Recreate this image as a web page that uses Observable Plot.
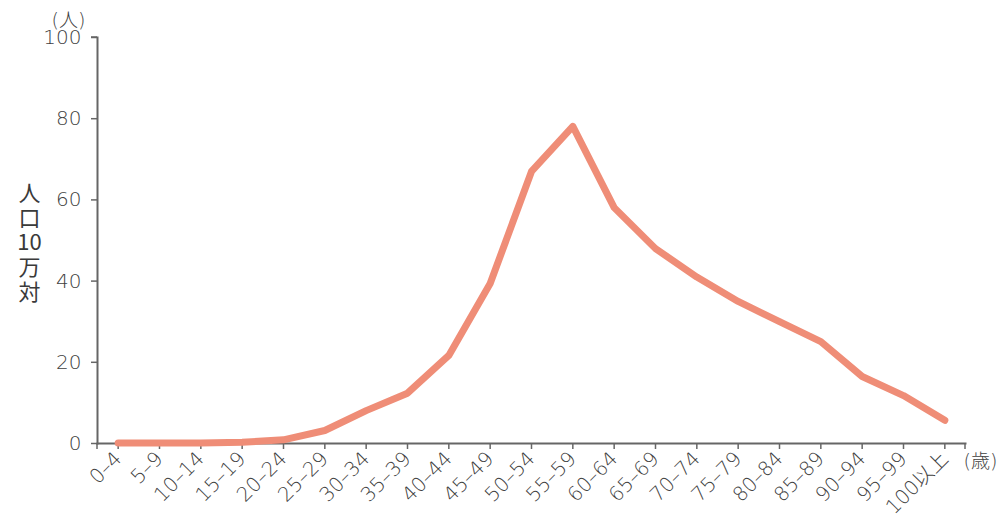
<!DOCTYPE html>
<html>
<head>
<meta charset="utf-8">
<script src="https://cdn.jsdelivr.net/npm/d3@7"></script>
<script src="https://cdn.jsdelivr.net/npm/@observablehq/plot@0.6"></script>
<style>
  html, body { margin: 0; padding: 0; background: #fff; }
  #chart svg { display: block; font-family: 'DejaVu Sans', 'Noto Sans CJK JP', sans-serif; color: #444; background: #fff; }
</style>
</head>
<body>
<div id="chart"></div>
<script>
const ageGroups = ["0–4","5–9","10–14","15–19","20–24","25–29","30–34","35–39","40–44","45–49","50–54","55–59","60–64","65–69","70–74","75–79","80–84","85–89","90–94","95–99","100以上"];
const rates = [0.1, 0.1, 0.1, 0.3, 0.9, 3.2, 8.1, 12.4, 21.7, 39.4, 67.0, 78.1, 58.1, 48.0, 41.0, 35.0, 30.0, 25.1, 16.5, 11.8, 5.7];
const yTicks = [0, 20, 40, 60, 80, 100];

const data = ageGroups.map((a, i) => ({age: a, rate: rates[i]}));
const axisColor = "#666";
const textColor = "#3f3f3f";
const labelFont = "'Noto Sans CJK JP', 'Noto Sans', sans-serif";

const chart = Plot.plot({
  width: 1000,
  height: 531,
  marginLeft: 97,
  marginRight: 35,
  marginTop: 37,
  marginBottom: 88,
  x: {type: "point", domain: ageGroups, padding: 0.5, round: false},
  y: {domain: [0, 100]},
  marks: [
    Plot.frame({anchor: "bottom", stroke: axisColor, strokeWidth: 2}),
    Plot.frame({anchor: "left", stroke: axisColor, strokeWidth: 2}),
    Plot.axisY(yTicks, {tickSize: 6, tickPadding: 10, fontSize: 20, fontWeight: 200, stroke: axisColor, strokeWidth: 1.5, fill: textColor, label: null}),
    Plot.axisX({tickSize: 6, tickRotate: -45, tickPadding: 6, fontSize: 20, fontWeight: 200, stroke: axisColor, strokeWidth: 1.5, fill: textColor, label: null}),
    Plot.line(data, {x: "age", y: "rate", stroke: "#ef8d77", strokeWidth: 7, strokeLinejoin: "round", strokeLinecap: "round"}),
    Plot.text(["人\n口\n10\n万\n対"], {frameAnchor: "left", dx: -68, dy: 2, fontSize: 22, lineHeight: 1.13, fill: "#3a3a3a", fontFamily: labelFont, textAnchor: "middle"}),
    Plot.text(["(人)"], {frameAnchor: "top-left", dx: -29, dy: -24, fontSize: 19, fontWeight: 200, fill: textColor, textAnchor: "middle"}),
    Plot.text(["(歳)"], {frameAnchor: "bottom-right", dx: -2, dy: 24, fontSize: 19, fontWeight: 200, fill: textColor, textAnchor: "start"})
  ]
});

// outer ticks of the axis domains (d3-style), positioned from the plot's scales
const sx = chart.scale("x"), sy = chart.scale("y");
const svg = d3.select(chart);
const [x0, x1] = sx.range;
const yBottom = sy.apply(0), yTop = sy.apply(100);
const g = svg.append("g").attr("stroke", axisColor).attr("stroke-width", 1.5);
[x0, x1].forEach(x => g.append("line").attr("x1", x).attr("x2", x).attr("y1", yBottom).attr("y2", yBottom + 6));
[yTop].forEach(y => g.append("line").attr("x1", x0 - 6).attr("x2", x0).attr("y1", y).attr("y2", y));

document.getElementById("chart").appendChild(chart);
</script>
</body>
</html>
